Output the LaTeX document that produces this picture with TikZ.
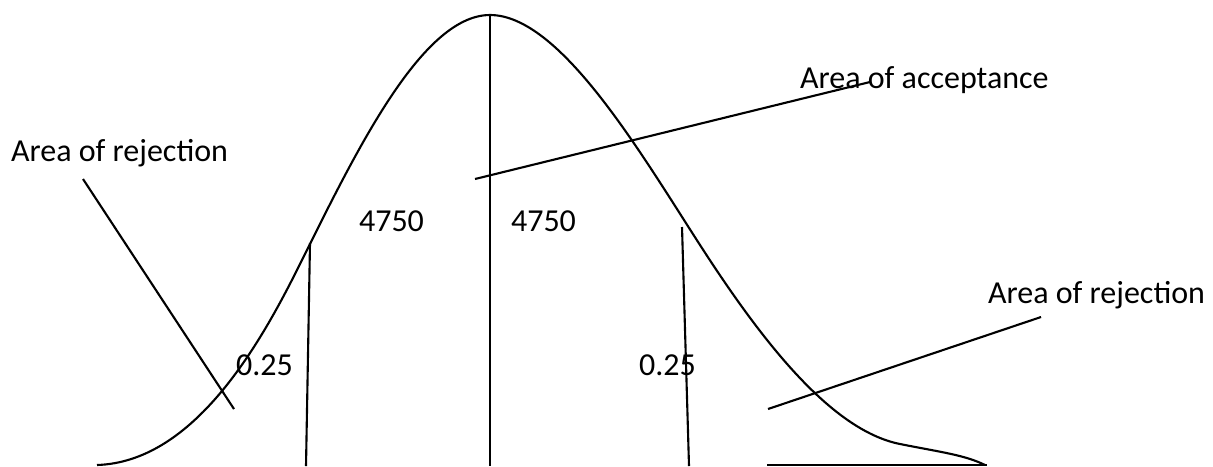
\documentclass[tikz,border=0pt]{standalone}
\usepackage{fontspec}
\setmainfont{Carlito}
\usepackage{tikz}

\begin{document}
\begin{tikzpicture}[x=0.01cm,y=-0.01cm,line width=0.6pt,
  every node/.style={font=\fontsize{9.1pt}{11pt}\selectfont,inner sep=0pt,anchor=base west}]
  \useasboundingbox (0,0) rectangle (1213,466);
  % bell curve
  \draw (97,465) .. controls (190,462) and (255,354) .. (297,270)
    .. controls (352,160) and (420,15) .. (490,15)
    .. controls (560,15) and (640,152) .. (700,245)
    .. controls (760,338) and (830,430) .. (900,444)
    .. controls (940,452) and (965,455) .. (985,465);
  \draw (767,465) -- (987,465);
  % cut-off lines
  \coordinate (midtop) at (490,15);
  \coordinate (midbot) at (490,466);
  \coordinate (cutltop) at (310,243);
  \coordinate (cutlbot) at (306,466);
  \coordinate (cutrtop) at (682,227);
  \coordinate (cutrbot) at (689,466);
  \draw (midtop) -- (midbot);
  \draw (cutltop) -- (cutlbot);
  \draw (cutrtop) -- (cutrbot);
  % labels
  \node (rejl) at (10,161) {Area of rejection};
  \node (acc) at (799,88) {Area of acceptance};
  \node (rejr) at (987,303) {Area of rejection};
  \node (accl) at (358,231) {4750};
  \node (accr) at (510,231) {4750};
  \node (tail) at (235,375) {0.25};
  \node (tailr) at (638,375) {0.25};
  % leaders
  \coordinate (rejlfrom) at (83,179);
  \coordinate (rejlto) at (234,409);
  \coordinate (accfrom) at (870,82);
  \coordinate (accto) at (475,179);
  \coordinate (rejrfrom) at (1041,317);
  \coordinate (rejrto) at (768,409);
  \draw (rejlfrom) -- (rejlto);
  \draw (accfrom) -- (accto);
  \draw (rejrfrom) -- (rejrto);
\end{tikzpicture}
\end{document}
